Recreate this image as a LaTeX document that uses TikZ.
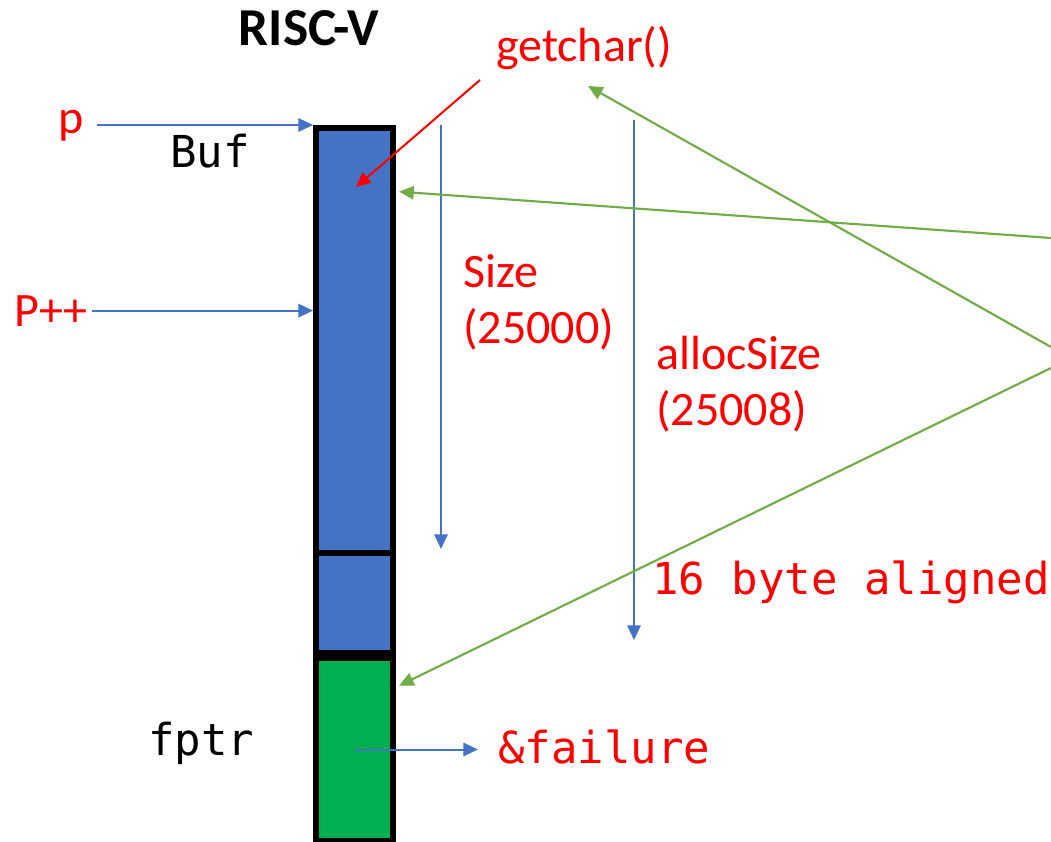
\documentclass[tikz,border=0pt]{standalone}
\usepackage{fontspec}
\setmainfont{Carlito}
\newfontfamily\codefont{DejaVu Sans Mono}
\usetikzlibrary{arrows.meta}

\definecolor{bufblue}{HTML}{4472C4}
\definecolor{fpgreen}{HTML}{00B050}
\definecolor{lnkgreen}{HTML}{70AD47}

\begin{document}
\begin{tikzpicture}[
        x=0.75pt, y=-0.75pt,
        every node/.style={inner sep=0pt},
        cell/.style={draw=black, line width=4.5pt, minimum width=58pt, anchor=north},
        lbl/.style={text=red, font=\fontsize{36}{43}\selectfont, anchor=base west},
        code/.style={font=\codefont\fontsize{33}{40}\selectfont, anchor=base west},
        ptr/.style={draw=bufblue, line width=1.5pt, -{Triangle[length=11pt,width=10pt]}},
        rptr/.style={draw=red, line width=1.5pt, -{Triangle[length=11pt,width=10pt]}},
        gptr/.style={draw=lnkgreen, line width=1.6pt, -{Triangle[length=11pt,width=10pt]}},
    ]

    \useasboundingbox (0,0) rectangle (1051,842);

    % memory column
    \node[cell, fill=bufblue, minimum height=318.75pt] (bufbox) at (354.75,125) {};
    \node[cell, fill=bufblue, minimum height=75pt] (padbox) at (354.75,550) {};
    \node[cell, fill=fpgreen, minimum height=137.25pt] (fptrbox) at (354.75,655) {};

    % labels
    \node[font=\bfseries\fontsize{40}{48}\selectfont, anchor=base] (title) at (309,46) {RISC-V};
    \node[lbl] (getchar) at (496,62) {getchar()};
    \node[lbl, anchor=base east, inner xsep=10pt] (p) at (97,134) {p};
    \node[lbl, anchor=base east, inner xsep=3pt] (pinc) at (92,326) {P++};
    \node[code] (buflbl) at (170,167) {Buf};
    \node[lbl] (size) at (463,287) {Size};
    \node[lbl] (sizeval) at (463,343) {(25000)};
    \node[lbl] (alloc) at (656,369) {allocSize};
    \node[lbl] (allocval) at (656,425) {(25008)};
    \node[code, text=red] (aligned) at (652,594) {16 byte aligned};
    \node[code] (fptrlbl) at (148,755) {fptr};
    \node[code, text=red, inner xsep=15pt] (failure) at (478,763) {\&failure};

    \coordinate (sizetop) at (441,125);
    \coordinate (sizeend) at (441,549);
    \coordinate (alloctop) at (634,120);
    \coordinate (allocend) at (634,640);
    \coordinate (gcfrom) at (480,80);
    \coordinate (gcto) at (356,187);
    \coordinate (srcA) at (1051,238);
    \coordinate (srcB) at (1051,347);
    \coordinate (srcC) at (1051,368);
    \coordinate (gctip) at (588,86);

    % pointers
    \draw[ptr] (p.east |- bufbox.north) -- (bufbox.north west);
    \draw[ptr] (pinc.east) -- (pinc.east -| bufbox.west);
    \draw[ptr] (sizetop) -- (sizeend);
    \draw[ptr] (alloctop) -- (allocend);
    \draw[ptr] (fptrbox.center) -- (fptrbox.center -| failure.west);

    \draw[rptr] (gcfrom) -- (gcto);

    \draw[gptr] (srcA) -- ([xshift=2pt,yshift=-50pt]bufbox.north east);
    \draw[gptr] (srcB) -- (gctip);
    \draw[gptr] (srcC) -- ([xshift=2pt,yshift=-23pt]fptrbox.north east);
\end{tikzpicture}
\end{document}
